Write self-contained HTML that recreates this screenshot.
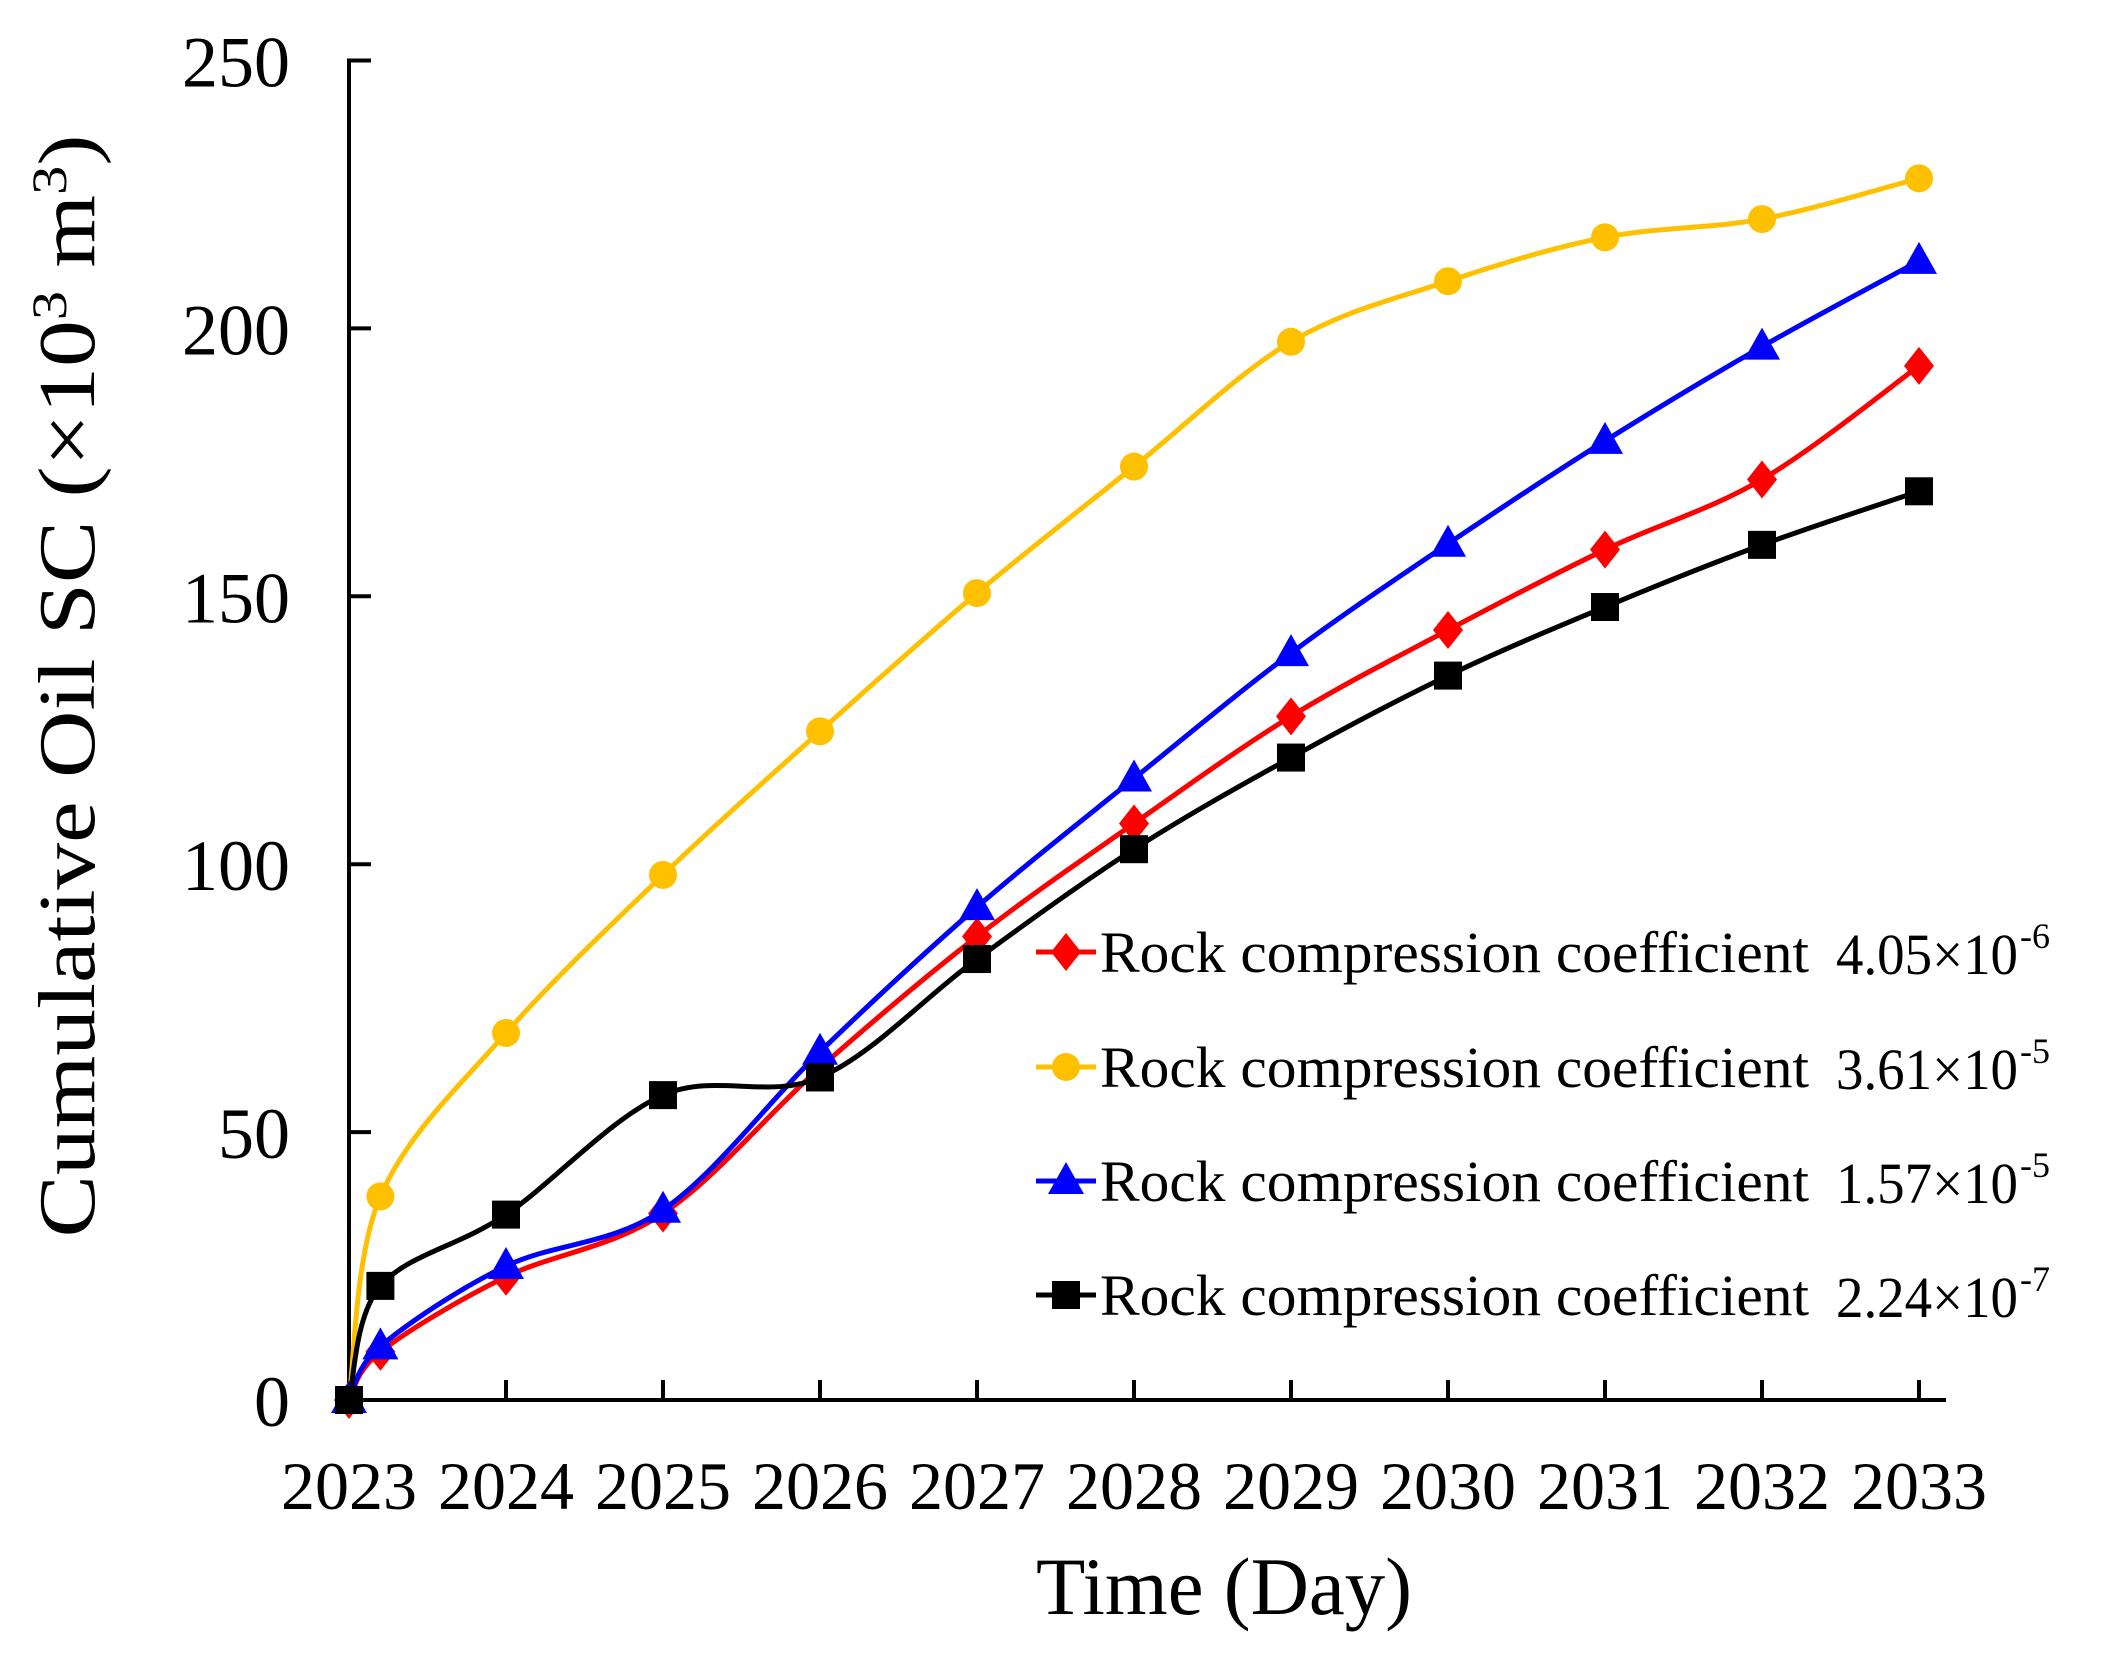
<!DOCTYPE html>
<html><head><meta charset="utf-8"><style>
html,body{margin:0;padding:0;background:#fff;}
svg{display:block;font-family:"Liberation Serif",serif;}
</style></head><body>
<svg id="chart" width="2109" height="1665" viewBox="0 0 2109 1665" xmlns="http://www.w3.org/2000/svg">
<g id="axes"></g>
<g id="series"></g>
<g id="legend"></g>
<text transform="translate(94,686) rotate(-90)" text-anchor="middle" font-size="80" textLength="1103" lengthAdjust="spacingAndGlyphs">Cumulative Oil SC (×10<tspan font-size="50" dy="-28">3</tspan><tspan dy="28"> m</tspan><tspan font-size="50" dy="-28">3</tspan><tspan dy="28">)</tspan></text>
<text x="1224" y="1614" text-anchor="middle" font-size="82" textLength="376" lengthAdjust="spacingAndGlyphs">Time (Day)</text>
</svg>
<script>
const xPositions = [2023, 2023.2, 2024, 2025, 2026, 2027, 2028, 2029, 2030, 2031, 2032, 2033];
const yellowValues = [0, 38, 68.5, 98, 124.8, 150.6, 174.2, 197.5, 208.8, 217, 220.4, 228];
const blueValues = [0, 10, 25, 35.5, 65, 92, 116, 139.4, 159.8, 179, 196.6, 212.6];
const redValues = [0, 9, 23, 34.8, 62, 86.5, 107.6, 127.6, 143.7, 158.7, 171.8, 193];
const blackValues = [0, 21.3, 34.6, 56.9, 60.2, 82.3, 102.8, 119.9, 135.2, 148, 159.6, 169.6];
const xTickLabels = ['2023','2024','2025','2026','2027','2028','2029','2030','2031','2032','2033'];
const yTickLabels = ['0','50','100','150','200','250'];
const legendLabels = ['4.05×10','3.61×10','1.57×10','2.24×10'];
const legendExps = ['-6','-5','-5','-7'];

const NS='http://www.w3.org/2000/svg';
const X0=349,X1=1919,Y0=1400,Y1=60.5;
function xs(v){return X0+(v-2023)/10*(X1-X0);}
function ys(v){return Y0-v/250*(Y0-Y1);}
function mk(tag,attrs,parent){const e=document.createElementNS(NS,tag);for(const k in attrs)e.setAttribute(k,attrs[k]);parent.appendChild(e);return e;}
const axes=document.getElementById('axes');
let e;
e=mk('line',{x1:X0,y1:Y0,x2:1946,y2:Y0,stroke:'#000','stroke-width':4},axes);


e=mk('line',{x1:X0,y1:Y0+2,x2:X0,y2:Y1-2,stroke:'#000','stroke-width':4},axes);


xTickLabels.forEach((t,i)=>{
  const x=xs(2023+i);
  e=mk('line',{x1:x,y1:Y0,x2:x,y2:Y0-20,stroke:'#000','stroke-width':4},axes);
  
  
  e=mk('text',{x:x,y:1509,'text-anchor':'middle','font-size':68},axes);
  e.textContent=t;
  
  
});
yTickLabels.forEach((t,i)=>{
  const y=ys(Number(t));
  e=mk('line',{x1:X0,y1:y,x2:X0+22,y2:y,stroke:'#000','stroke-width':4},axes);
  
  
  e=mk('text',{x:290,y:y+26,'text-anchor':'end','font-size':72},axes);
  e.textContent=t;
  
  
});
function smoothPath(pts){
  let d='M'+pts[0][0]+','+pts[0][1];
  for(let i=0;i<pts.length-1;i++){
    const p0=pts[Math.max(0,i-1)],p1=pts[i],p2=pts[i+1],p3=pts[Math.min(pts.length-1,i+2)];
    const t=6;
    const c1=[p1[0]+(p2[0]-p0[0])/t,p1[1]+(p2[1]-p0[1])/t];
    const c2=[p2[0]-(p3[0]-p1[0])/t,p2[1]-(p3[1]-p1[1])/t];
    d+=' C'+c1[0]+','+c1[1]+' '+c2[0]+','+c2[1]+' '+p2[0]+','+p2[1];
  }
  return d;
}
function marker(type,x,y,color,parent){
  let m;
  if(type==='diamond') m=mk('polygon',{points:`${x},${y-19} ${x+15},${y} ${x},${y+19} ${x-15},${y}`,fill:color},parent);
  else if(type==='circle') m=mk('circle',{cx:x,cy:y,r:14,fill:color},parent);
  else if(type==='triangle') m=mk('polygon',{points:`${x},${y-19} ${x+18},${y+13} ${x-18},${y+13}`,fill:color},parent);
  else m=mk('rect',{x:x-14,y:y-14,width:28,height:28,fill:color},parent);
  return m;
}
const seriesDefs=[
  {name:'red',vals:redValues,color:'#ff0000',m:'diamond'},
  {name:'yellow',vals:yellowValues,color:'#ffc000',m:'circle'},
  {name:'blue',vals:blueValues,color:'#0000ff',m:'triangle'},
  {name:'black',vals:blackValues,color:'#000000',m:'square'}
];
const sg=document.getElementById('series');
seriesDefs.forEach(s=>{
  const g=mk('g',{},sg);
  
  
  const pts=s.vals.map((v,i)=>[xs(xPositions[i]),ys(v)]);
  const p=mk('path',{d:smoothPath(pts),fill:'none',stroke:s.color,'stroke-width':5},g);
  
  
  pts.forEach(pt=>{
    const m=marker(s.m,pt[0],pt[1],s.color,g);
    
    
  });
});
const lg=document.getElementById('legend');
const rowY=[952,1067,1181,1295];
seriesDefs.forEach((s,i)=>{
  const g=mk('g',{},lg);
  
  
  const y=rowY[i];
  mk('line',{x1:1036,y1:y,x2:1096,y2:y,stroke:s.color,'stroke-width':5},g);
  marker(s.m,1066,y,s.color,g);
  const t=mk('text',{x:1100,y:y+20,'font-size':58,textLength:709,lengthAdjust:'spacingAndGlyphs'},g);
  t.textContent='Rock compression coefficient';
  const v=mk('text',{x:1836,y:y+22,'font-size':58,textLength:182,lengthAdjust:'spacingAndGlyphs'},g);
  v.textContent=legendLabels[i];
  const ex=mk('text',{x:2020,y:y-4,'font-size':36},g);
  ex.textContent=legendExps[i];
});
</script>
</body></html>
